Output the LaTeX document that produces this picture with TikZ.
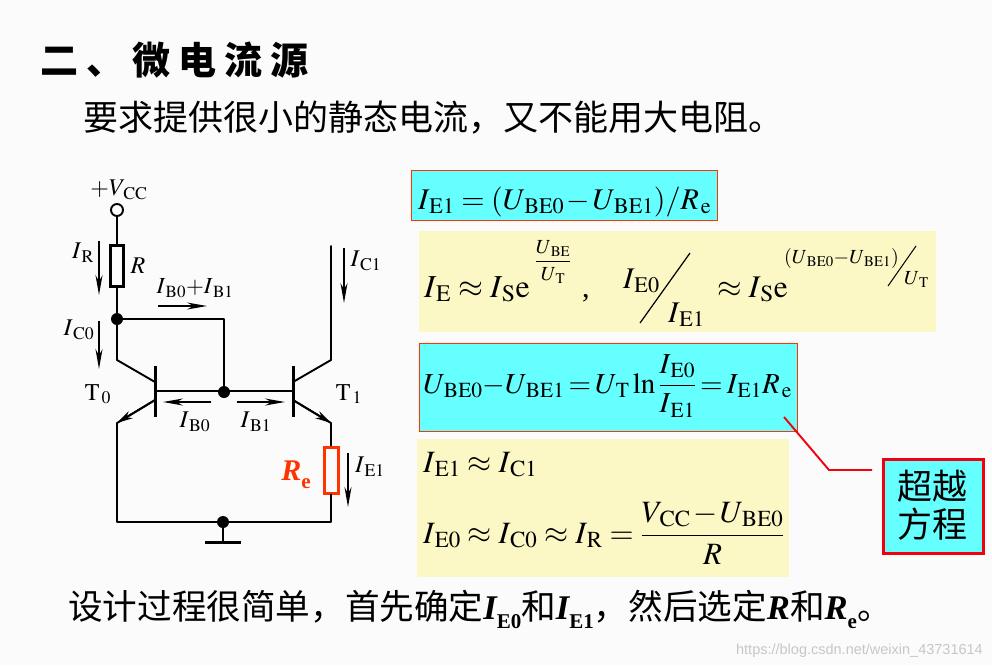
\documentclass[tikz,border=0pt]{standalone}
\usepackage{amsmath}
\usepackage{mathptmx}
\usepackage[no-math]{fontspec}
\setmainfont{Liberation Serif}
\newfontfamily\cjk{Noto Sans CJK SC}
\newfontfamily\cjktitle[LetterSpace=21]{Noto Sans CJK SC Black}
\newfontfamily\marksans{Liberation Sans}
\usetikzlibrary{arrows.meta}
\definecolor{boxcyan}{HTML}{66FFFF}
\definecolor{boxyellow}{HTML}{FBF8C6}
\definecolor{boxred}{HTML}{FF3300}
\definecolor{pagegray}{HTML}{FBFBFB}
\newcommand{\bsub}[2]{{\rmfamily\bfseries\itshape #1\raisebox{-.28em}{\upshape\fontsize{21}{21}\selectfont #2}}}
\newcommand{\vs}[2]{#1_{\kern2pt\mathrm{#2}}}
\tikzset{%
	wire/.style={line width=1.9pt, line cap=round, line join=round},
	current/.style={line width=1.9pt, -{Stealth[length=20pt,width=7pt]}},
	dot/.style={circle, fill=black, inner sep=0pt, minimum size=12pt},
	resistor/.style={draw, line width=3pt, fill=pagegray, minimum width=13pt, minimum height=41pt, inner sep=0pt},
	lab/.style={inner sep=0pt, font=\fontsize{24}{28}\selectfont},
	eq/.style={anchor=base west, inner sep=0pt, font=\fontsize{30}{36}\selectfont, execute at begin node={\medmuskip=1.5mu\thickmuskip=4mu}},
	eqsmall/.style={anchor=base west, inner sep=0pt, font=\fontsize{20}{24}\selectfont, execute at begin node={\medmuskip=0mu}},
	cjktext/.style={anchor=base west, inner sep=0pt, font=\cjk\fontsize{34.6}{40}\selectfont},
	cyanbox/.style={draw=boxred, line width=1pt, fill=boxcyan, inner sep=0pt},
	yellowbox/.style={fill=boxyellow, inner sep=0pt},
	box/.style args={#1/#2}{minimum width=#1pt, minimum height=#2pt, anchor=north west},
}

\begin{document}
\begin{tikzpicture}[x=1pt, y=-1pt]

	\fill [pagegray] (0,0) rectangle (992,665);
	\useasboundingbox (0,0) rectangle (992,665);

	% headings
	\node [anchor=base west, inner sep=0pt, font=\cjktitle\fontsize{38}{44}\selectfont] (title) at (40,74) {二、微电流源};
	\node [cjktext, font=\cjk\fontsize{35}{40}\selectfont] (demand) at (83,130) {要求提供很小的静态电流，又不能用大电阻。};

	% circuit points
	\foreach \n/\x/\y in {c0/117/360, b0/155/382, e0/155/400, f0/117/423, c1/331/360, b1/293/382, e1/293/400, f1/331/423,
		top1/331/246, botl/117/522, botr/331/522, gnd/223/542, gndl/205/542, gndr/241/542, bas0/155/391, bas1/293/391,
		bar0a/155/366, bar0b/155/417, bar1a/293/366, bar1b/293/417}
	\coordinate (\n) at (\x,\y);

	\node [circle, draw, line width=1.9pt, fill=white, inner sep=0pt, minimum size=12pt] (vcc) at (117,210) {};
	\node [resistor] (r) at (117,266) {};
	\node [dot] (nodetop) at (117,319) {};
	\node [dot] (nodebase) at (224,392) {};
	\node [dot] (nodebot) at (223,522) {};
	\node [resistor, draw=boxred, minimum height=46pt, minimum width=14pt] (re) at (331,470) {};

	\draw [wire] (vcc) -- (r) -- (nodetop) -- (c0) -- (b0);
	\draw [wire] (nodetop) -| (nodebase);
	\draw [wire] (bas0) -- (bas1);
	\draw [wire] (e0) -- (f0) -- (botl) -- (botr) -- (re.south);
	\draw [wire] (top1) -- (c1) -- (b1);
	\draw [wire] (e1) -- (f1) -- (re.north);
	\draw [wire] (nodebot) -- (gnd);
	\draw [line width=3pt] (gndl) -- (gndr);
	\draw [line width=3pt] (bar0a) -- (bar0b);
	\draw [line width=3pt] (bar1a) -- (bar1b);
	\draw [current, -{Stealth[length=16pt,width=8pt]}] (e0) -- (f0);
	\draw [current, -{Stealth[length=16pt,width=8pt]}] (e1) -- (f1);

	% currents
	\foreach \n/\xa/\ya/\xb/\yb in {ir/99/241/99/295, ic0/99/321/99/369, ic1/344/248/344/303, ie1/348/453/348/507,
		ibs/158/306/207/306, ib0/211/402/163/402, ib1/237/402/285/402}
	{
		\coordinate (\n-a) at (\xa,\ya);
		\coordinate (\n-b) at (\xb,\yb);
		\draw [current] (\n-a) -- (\n-b);
	}

	% circuit labels
	\node [lab] (lvcc) at (119,190) {$+\vs{V}{CC}$};
	\node [lab] (lir) at (83,253) {$\vs{I}{R}$};
	\node [lab] (lr) at (138,266) {$R$};
	\node [lab, font=\fontsize{23}{28}\selectfont] (libs) at (195,288) {$\vs{I}{B0}{+}\vs{I}{B1}$};
	\node [lab] (lic0) at (79,330) {$\vs{I}{C0}$};
	\node [lab] (lic1) at (366,261) {$\vs{I}{C1}$};
	\node [lab] (lt0) at (98,394) {$\vs{\mathrm{T}}{0}$};
	\node [lab] (lt1) at (349,394) {$\vs{\mathrm{T}}{1}$};
	\node [lab] (lib0) at (195,422) {$\vs{I}{B0}$};
	\node [lab] (lib1) at (256,422) {$\vs{I}{B1}$};
	\node [lab] (lie1) at (370,467) {$\vs{I}{E1}$};
	\node [lab, text=boxred, font=\fontsize{30}{34}\selectfont] (lre) at (296,475) {\bsub{R}{e}};

	% equation boxes
	\node [cyanbox, box=306/50] (eqa) at (411,170) {};
	\node [yellowbox, box=517/101] (eqb) at (419,231) {};
	\node [cyanbox, box=378/88] (eqc) at (419,343) {};
	\node [yellowbox, box=372/138] (eqd) at (417,439) {};
	\node [cyanbox, draw=red!95!blue, line width=2.6pt, box=100/94] (note) at (882,458) {};

	\node [eq] (ie) at (418,209) {$\vs{I}{E1}=(\vs{U}{BE0}-\vs{U}{BE1})/\vs{R}{e}$};

	\node [eq, font=\fontsize{32}{36}\selectfont] (iea) at (424,297) {$\vs{I}{E}\approx \vs{I}{S}\mathrm{e}$};
	\node [eqsmall, anchor=center] (expa) at (553,262) {$\dfrac{\vs{U}{BE}}{\vs{U}{T}}$};
	\node [eq] (comma) at (582,297) {,};
	\node [eq] (ie0) at (623,288) {$\vs{I}{E0}$};
	\node [eq] (ie1) at (668,322) {$\vs{I}{E1}$};
	\coordinate (sla) at (640,323);
	\coordinate (slb) at (690,253);
	\draw [line width=1.2pt] (sla) -- (slb);
	\node [eq, font=\fontsize{31.5}{36}\selectfont] (ieb) at (717,297) {$\approx \vs{I}{S}\mathrm{e}$};
	\node [eqsmall] (expb) at (784,263) {$(\vs{U}{BE0}{-}\vs{U}{BE1})$};
	\node [eqsmall] (expc) at (904,284) {$\vs{U}{T}$};
	\coordinate (slc) at (888,286);
	\coordinate (sld) at (916,246);
	\draw [line width=1pt] (slc) -- (sld);

	\node [eq, font=\fontsize{29}{36}\selectfont, execute at begin node={\medmuskip=0mu\thickmuskip=2.5mu}] (ube) at (423,393) {$\vs{U}{BE0}-\vs{U}{BE1}=\vs{U}{T}\ln\dfrac{\vs{I}{E0}}{\vs{I}{E1}}=\vs{I}{E1}\vs{R}{e}$};

	\node [eq, font=\fontsize{31}{36}\selectfont] (iec) at (423,472) {$\vs{I}{E1}\approx \vs{I}{C1}$};
	\node [eq, font=\fontsize{31}{36}\selectfont] (ied) at (423,543) {$\vs{I}{E0}\approx \vs{I}{C0}\approx \vs{I}{R}=\dfrac{\vs{V}{CC}-\vs{U}{BE0}}{R}$};

	% callout
	\node [inner sep=0pt, align=center, font=\cjk\fontsize{35}{38}\selectfont] (notetext) at (932,505) {超越\\方程};
	\coordinate (calla) at (784,417);
	\coordinate (callb) at (829,470);
	\coordinate (callc) at (872,470);
	\draw [red!95!blue, line width=1.9pt] (calla) -- (callb) -- (callc);

	% closing line
	\node [cjktext] (closing) at (68,619) {设计过程很简单，首先确定\bsub{I}{E0}和\bsub{I}{E1}，然后选定{\rmfamily\bfseries\itshape R}和\bsub{R}{e}。};

	\node [anchor=base east, inner sep=0pt, text=black!22, font=\marksans\fontsize{14.5}{18}\selectfont] (mark) at (983,654) {https://blog.csdn.net/weixin\_43731614};

\end{tikzpicture}
\end{document}
